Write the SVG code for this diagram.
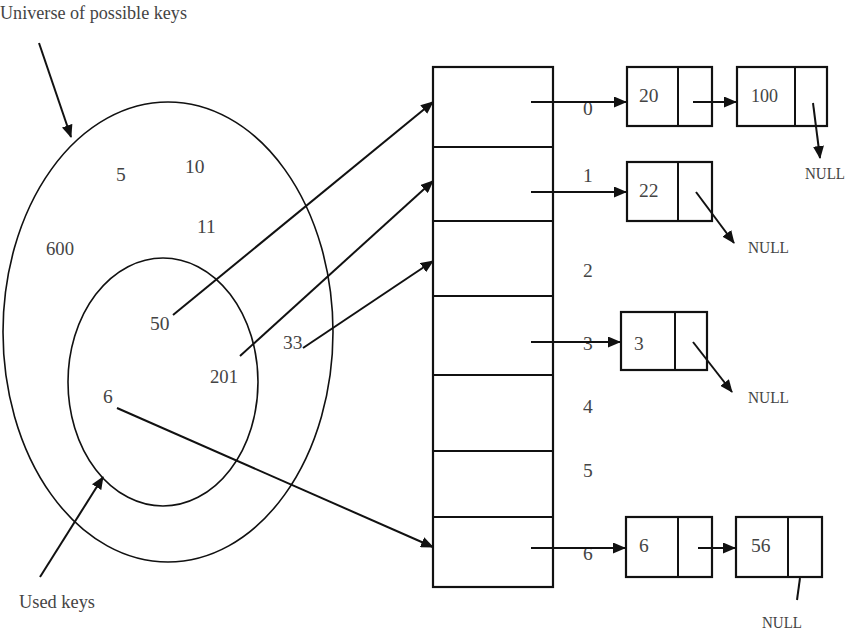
<svg xmlns="http://www.w3.org/2000/svg" width="849" height="634" viewBox="0 0 849 634">
  <style>
    .txt { font-family: "Liberation Serif", "Times New Roman", serif; font-size: 19.5px; fill: #444; }
    .null { font-size: 16px; }
    .line { stroke: #111; stroke-width: 2; fill: none; }
    .ring { stroke: #111; stroke-width: 1.6; fill: none; }
    .box { stroke: #111; stroke-width: 2.2; fill: #fff; }
    .arrow { stroke: #111; stroke-width: 2; fill: none; marker-end: url(#head); }
  </style>
  <defs>
    <marker id="head" markerUnits="userSpaceOnUse" markerWidth="13" markerHeight="11" refX="12" refY="5.5" orient="auto">
      <path d="M0,0 L13,5.5 L0,11 z" fill="#111"/>
    </marker>
  </defs>
  <rect width="849" height="634" fill="#fff"/>

  <!-- key sets -->
  <g id="universe">
    <ellipse class="ring" cx="168" cy="332" rx="165" ry="230"/>
    <text class="txt" x="0" y="19" textLength="187" lengthAdjust="spacingAndGlyphs">Universe of possible keys</text>
  </g>
  <g id="used">
    <ellipse class="ring" cx="163" cy="382" rx="95" ry="124"/>
    <text class="txt" x="19" y="608" textLength="76" lengthAdjust="spacingAndGlyphs">Used keys</text>
  </g>
  <g id="keys">
    <text class="txt" x="116" y="181">5</text>
    <text class="txt" x="185" y="173">10</text>
    <text class="txt" x="197" y="233">11</text>
    <text class="txt" x="46" y="255" textLength="28" lengthAdjust="spacingAndGlyphs">600</text>
    <text class="txt" x="150" y="330">50</text>
    <text class="txt" x="210" y="383" textLength="28" lengthAdjust="spacingAndGlyphs">201</text>
    <text class="txt" x="283" y="349">33</text>
    <text class="txt" x="103" y="403">6</text>
  </g>

  <!-- hash table -->
  <g id="table">
    <rect class="box" x="433" y="67" width="120" height="520"/>
    <path class="line" d="M433,147 H553 M433,221 H553 M433,296 H553 M433,375 H553 M433,451 H553 M433,517 H553" stroke-width="2.2"/>
  </g>

  <!-- chain nodes -->
  <g id="node-20">
    <rect class="box" x="627" y="67" width="85" height="59"/>
    <line class="line" x1="678" y1="67" x2="678" y2="126"/>
    <text class="txt" x="639" y="102">20</text>
  </g>
  <g id="node-100">
    <rect class="box" x="737" y="67" width="90" height="59"/>
    <line class="line" x1="795" y1="67" x2="795" y2="126"/>
    <text class="txt" x="751" y="102" textLength="27" lengthAdjust="spacingAndGlyphs">100</text>
  </g>
  <g id="node-22">
    <rect class="box" x="627" y="162" width="85" height="59"/>
    <line class="line" x1="678" y1="162" x2="678" y2="221"/>
    <text class="txt" x="639" y="197">22</text>
  </g>
  <g id="node-3">
    <rect class="box" x="621" y="312" width="86" height="58"/>
    <line class="line" x1="675" y1="312" x2="675" y2="370"/>
    <text class="txt" x="634" y="350">3</text>
  </g>
  <g id="node-6">
    <rect class="box" x="626" y="517" width="86" height="60"/>
    <line class="line" x1="678" y1="517" x2="678" y2="577"/>
    <text class="txt" x="639" y="552">6</text>
  </g>
  <g id="node-56">
    <rect class="box" x="736" y="517" width="86" height="60"/>
    <line class="line" x1="788" y1="517" x2="788" y2="577"/>
    <text class="txt" x="751" y="552">56</text>
  </g>

  <!-- slot indices -->
  <g id="slot-labels">
    <text class="txt" x="583" y="115">0</text>
    <text class="txt" x="583" y="182">1</text>
    <text class="txt" x="583" y="277">2</text>
    <text class="txt" x="583" y="350">3</text>
    <text class="txt" x="583" y="413">4</text>
    <text class="txt" x="583" y="477">5</text>
    <text class="txt" x="583" y="560">6</text>
  </g>

  <!-- NULL terminators -->
  <g id="nulls">
    <text class="txt null" x="805" y="179" textLength="40" lengthAdjust="spacingAndGlyphs">NULL</text>
    <text class="txt null" x="748" y="253" textLength="41" lengthAdjust="spacingAndGlyphs">NULL</text>
    <text class="txt null" x="748" y="403" textLength="41" lengthAdjust="spacingAndGlyphs">NULL</text>
    <text class="txt null" x="762" y="628" textLength="40" lengthAdjust="spacingAndGlyphs">NULL</text>
  </g>

  <!-- connectors -->
  <g id="connectors">
    <line class="arrow" x1="39" y1="43" x2="71" y2="137"/>
    <line class="arrow" x1="40" y1="577" x2="103" y2="477"/>

    <line class="arrow" x1="173" y1="315" x2="433" y2="102"/>
    <line class="arrow" x1="240" y1="356" x2="433" y2="181"/>
    <line class="arrow" x1="303" y1="348" x2="433" y2="261"/>
    <line class="arrow" x1="117" y1="408" x2="433" y2="547"/>

    <line class="arrow" x1="531" y1="102" x2="626" y2="102"/>
    <line class="arrow" x1="531" y1="192" x2="626" y2="192"/>
    <line class="arrow" x1="531" y1="342" x2="620" y2="342"/>
    <line class="arrow" x1="531" y1="548" x2="625" y2="548"/>

    <line class="arrow" x1="693" y1="102" x2="736" y2="102"/>
    <line class="arrow" x1="698" y1="548" x2="735" y2="548"/>

    <line class="arrow" x1="813" y1="103" x2="820" y2="158"/>
    <line class="arrow" x1="696" y1="192" x2="734" y2="243"/>
    <line class="arrow" x1="693" y1="342" x2="732" y2="392"/>
    <line class="line" x1="800" y1="578" x2="797" y2="600"/>
  </g>
</svg>
